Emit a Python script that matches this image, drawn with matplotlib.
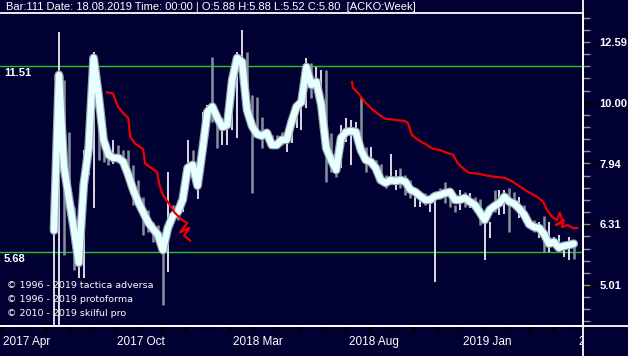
#Weekly ACKO chart: candles, smoothed close, red trailing line, support/resistance
import matplotlib.pyplot as plt
import numpy as np
from matplotlib.lines import Line2D
from matplotlib.ticker import FixedLocator, NullFormatter

#Smoothed close, one value per weekly bar
smooth = [6.16, 11.11, 7.87, 6.97, 6.22, 5.45, 7.32, 8.42, 11.85, 10.30,
          8.69, 8.21, 8.11, 8.11, 7.99, 7.61, 7.19, 6.87, 6.61, 6.36,
          6.20, 6.06, 5.72, 6.22, 6.51, 6.61, 6.92, 7.81, 7.90, 7.30,
          8.36, 9.66, 9.85, 9.44, 9.12, 9.19, 10.90, 11.85, 11.67, 9.73,
          9.16, 8.88, 8.82, 8.92, 8.52, 8.52, 8.69, 8.69, 9.30, 9.85,
          10.03, 11.45, 10.70, 10.82, 9.92, 8.42, 8.05, 7.75, 8.75, 8.95,
          8.98, 8.95, 8.36, 8.05, 7.99, 7.81, 7.46, 7.38, 7.46, 7.43,
          7.46, 7.41, 7.19, 7.13, 7.02, 6.92, 6.92, 7.02, 7.05, 7.10,
          7.13, 6.92, 6.92, 6.97, 6.87, 6.79, 6.61, 6.41, 6.66, 6.76,
          6.84, 7.00, 6.87, 6.82, 6.69, 6.54, 6.31, 6.24, 6.22, 6.08,
          5.86, 5.90, 5.77, 5.81, 5.83, 5.86]

high = [6.29, 13.06, 10.90, 8.95, 6.74, 5.72, 8.36, 8.69, 12.11, 9.37,
        9.19, 8.59, 8.69, 8.52, 8.36, 8.36, 7.90, 7.46, 6.99, 6.66,
        6.36, 6.29, 5.99, 7.69, 6.79, 6.92, 6.79, 8.69, 8.36, 7.32,
        9.66, 9.92, 11.87, 9.62, 9.44, 9.44, 11.11, 12.11, 13.18, 12.11,
        10.30, 10.22, 9.48, 8.95, 8.85, 8.85, 8.95, 8.75, 9.05, 9.66,
        9.92, 11.85, 11.63, 11.45, 11.32, 11.32, 8.92, 8.46, 9.19, 9.44,
        9.37, 9.30, 10.22, 8.46, 8.46, 8.05, 7.94, 7.61, 8.24, 7.75,
        7.81, 7.61, 7.46, 7.13, 7.10, 7.10, 6.95, 6.95, 7.24, 7.41,
        7.13, 6.79, 7.19, 7.13, 7.10, 7.00, 6.95, 6.54, 6.36, 7.19,
        7.19, 7.19, 7.24, 7.13, 7.00, 6.79, 6.46, 6.41, 6.36, 6.51,
        6.36, 6.02, 6.06, 5.83, 6.02, 5.88]

low = [4.00, 4.00, 5.62, 6.74, 5.31, 5.15, 5.15, 7.61, 6.71, 8.05,
       7.99, 7.90, 7.94, 7.99, 7.75, 7.32, 6.79, 6.66, 6.06, 6.12,
       5.90, 5.83, 4.64, 5.27, 6.36, 6.41, 6.61, 7.52, 7.61, 6.95,
       7.69, 8.92, 9.30, 8.42, 8.52, 8.52, 9.02, 8.75, 10.30, 9.81,
       7.10, 8.85, 8.42, 8.62, 8.42, 8.46, 8.52, 8.29, 8.59, 9.09,
       9.02, 9.81, 10.18, 10.62, 10.46, 7.41, 7.69, 7.55, 7.81, 8.62,
       7.90, 8.75, 8.21, 7.69, 7.90, 7.61, 7.41, 7.24, 7.32, 7.19,
       7.24, 7.05, 6.97, 6.74, 6.74, 6.79, 6.61, 5.07, 6.95, 6.84,
       6.74, 6.61, 6.66, 6.74, 6.71, 6.61, 6.29, 5.51, 5.99, 6.61,
       6.54, 6.56, 6.12, 6.79, 6.46, 6.36, 6.22, 6.12, 5.99, 5.68,
       5.68, 5.79, 5.68, 5.57, 5.51, 5.52]

#1 = up bar (white), 0 = down bar (grey)
up = [1, 1, 0, 0, 0, 1, 1, 1, 1, 0,
      0, 0, 1, 0, 0, 0, 0, 0, 0, 0,
      0, 0, 0, 1, 0, 0, 1, 1, 0, 1,
      1, 1, 0, 0, 1, 1, 1, 1, 1, 0,
      0, 0, 0, 0, 0, 0, 0, 1, 1, 1,
      1, 1, 0, 1, 1, 0, 0, 0, 1, 1,
      1, 1, 0, 0, 1, 0, 0, 0, 1, 1,
      0, 0, 0, 1, 1, 0, 1, 1, 0, 0,
      0, 0, 1, 0, 1, 0, 0, 1, 1, 0,
      1, 1, 0, 0, 1, 0, 0, 0, 1, 0,
      1, 1, 1, 1, 1, 0]

#Red trailing line, two pieces (bar position, price)
red1_x = [10.7, 11.9, 12.9, 14.3, 15.0, 15.4, 16.4, 18.0, 18.4, 20.8,
          21.4, 22.0, 23.4, 24.4, 25.9, 26.9, 25.5, 27.3, 26.3, 27.5]
red1_y = [10.40, 10.36, 9.85, 9.55, 9.44, 8.78, 8.56, 8.39, 7.94, 7.69,
          7.27, 7.05, 6.79, 6.59, 6.41, 6.34, 6.12, 6.22, 6.04, 5.93]
red2_x = [60.2, 60.4, 61.4, 62.8, 64.2, 65.5, 66.9, 68.9, 70.9, 71.5,
          72.3, 73.5, 74.9, 76.6, 78.0, 79.0, 80.6, 81.6, 83.0, 84.0,
          85.7, 87.7, 89.1, 91.1, 92.7, 94.5, 95.8, 97.6, 98.8, 99.6,
          100.6, 101.6, 102.2, 102.8, 101.4, 103.0, 102.6, 103.8, 104.8, 105.7]
red2_y = [10.82, 10.58, 10.38, 10.03, 9.77, 9.58, 9.41, 9.37, 9.33, 9.26,
          8.85, 8.69, 8.56, 8.39, 8.36, 8.29, 8.21, 7.94, 7.75, 7.66,
          7.64, 7.58, 7.55, 7.52, 7.41, 7.24, 7.13, 7.00, 6.87, 6.66,
          6.49, 6.41, 6.59, 6.36, 6.29, 6.41, 6.24, 6.29, 6.22, 6.22]

#Levels and axis labels
levels = [11.51, 5.68]
price_ticks = [5.01, 6.31, 7.94, 10.00, 12.59]
date_pos = [-10.7, 12.5, 35.8, 59.2, 82.4, 105.7]
date_labels = ["2017 Apr", "2017 Oct", "2018 Mar", "2018 Aug", "2019 Jan", "2019 Jun"]
header = "Bar:111 Date: 18.08.2019 Time: 00:00 | O:5.88 H:5.88 L:5.52 C:5.80  [ACKO:Week]"
credits = ["\u00a9 1996 - 2019 tactica adversa",
           "\u00a9 1996 - 2019 protoforma",
           "\u00a9 2010 - 2019 skilful pro"]

bg = '#000033'

W, H = 628, 356
fig = plt.figure(figsize=(W / 100, H / 100), dpi=100, facecolor=bg)
ax = fig.add_axes([0, 30 / H, 583 / W, 313 / H], facecolor=bg)
ax.set_yscale('log')
ax.set_xlim(-10.91, 106.87)
ax.set_ylim(4.29, 14.05)

bars = np.arange(len(smooth))

# candles (high-low)
for i in bars:
    c = 'white' if up[i] else '#8a8f9c'
    ax.vlines(i, low[i], high[i], color=c, lw=1.2 if up[i] else 1.8, zorder=2)

# support / resistance
for lv in levels:
    ax.axhline(lv, color='#20c820', lw=1, zorder=1)

# smoothed close
ax.plot(bars, smooth, color='#9aa8b4', lw=6.3, solid_joinstyle='round',
        solid_capstyle='round', zorder=3)
ax.plot(bars, smooth, color='#e6ffff', lw=4.6, solid_joinstyle='round',
        solid_capstyle='round', zorder=4)

# red trailing line
ax.plot(red1_x, red1_y, color='#ee0000', lw=1.6, zorder=5)
ax.plot(red2_x, red2_y, color='#ee0000', lw=1.6, zorder=5)

# level labels on the left
for lv in levels:
    ax.annotate(f"{lv:.2f}", (0, lv), xycoords=('axes fraction', 'data'),
                xytext=(4, -7), textcoords='offset pixels', color='white',
                fontsize=8, fontweight='bold', family='Liberation Sans', va='center')

# right price axis
ax.yaxis.tick_right()
ax.yaxis.set_major_locator(FixedLocator(price_ticks))
ax.yaxis.set_ticklabels([f"{p:.2f}" for p in price_ticks])
minor = [10 ** e for e in np.arange(0.62, 1.15, 0.02)]
ax.yaxis.set_minor_locator(FixedLocator(minor))
ax.yaxis.set_minor_formatter(NullFormatter())
ax.tick_params(axis='y', which='major', length=7, width=2, color='black',
               pad=5, labelcolor='white', labelsize=8)
ax.tick_params(axis='y', which='minor', length=5, width=1, color='#8a8f9c')
for lab in ax.get_yticklabels():
    lab.set_fontweight('bold')
    lab.set_family('Liberation Sans')

# bottom time axis ticks
ax.xaxis.set_major_locator(FixedLocator(np.arange(date_pos[0], 107, 4.65)))
ax.xaxis.set_major_formatter(NullFormatter())
ax.tick_params(axis='x', which='major', length=4, width=1.5, color='black')

ax.spines['left'].set_visible(False)
for s in ['top', 'right', 'bottom']:
    ax.spines[s].set_color('white')
    ax.spines[s].set_linewidth(1.3)

# date labels, clipped at the price axis
ax2 = fig.add_axes([0, 0, 583 / W, 30 / H], sharex=ax, facecolor='none')
ax2.set_axis_off()
for p, lab in zip(date_pos, date_labels):
    ax2.text(p + 0.3, 0.48, lab, transform=ax2.get_xaxis_transform(),
             color='white', fontsize=8.5, family='Liberation Sans', va='center',
             ha='left', clip_on=True)

# frame lines
fig.add_artist(Line2D([583 / W, 583 / W], [0, 1], color='white', lw=1.3))
fig.add_artist(Line2D([0, 1], [30 / H, 30 / H], color='white', lw=1.3))

# header and credits
fig.text(6 / W, 1 - 9.5 / H, header, color='white', fontsize=8,
         family='Liberation Sans', va='baseline')
for k, t in enumerate(credits):
    fig.text(7 / W, 1 - (288 + 14 * k) / H, t, color='white', fontsize=6.8,
             family='DejaVu Sans', va='baseline')

fig.savefig('out.png', dpi=100, facecolor=bg)
